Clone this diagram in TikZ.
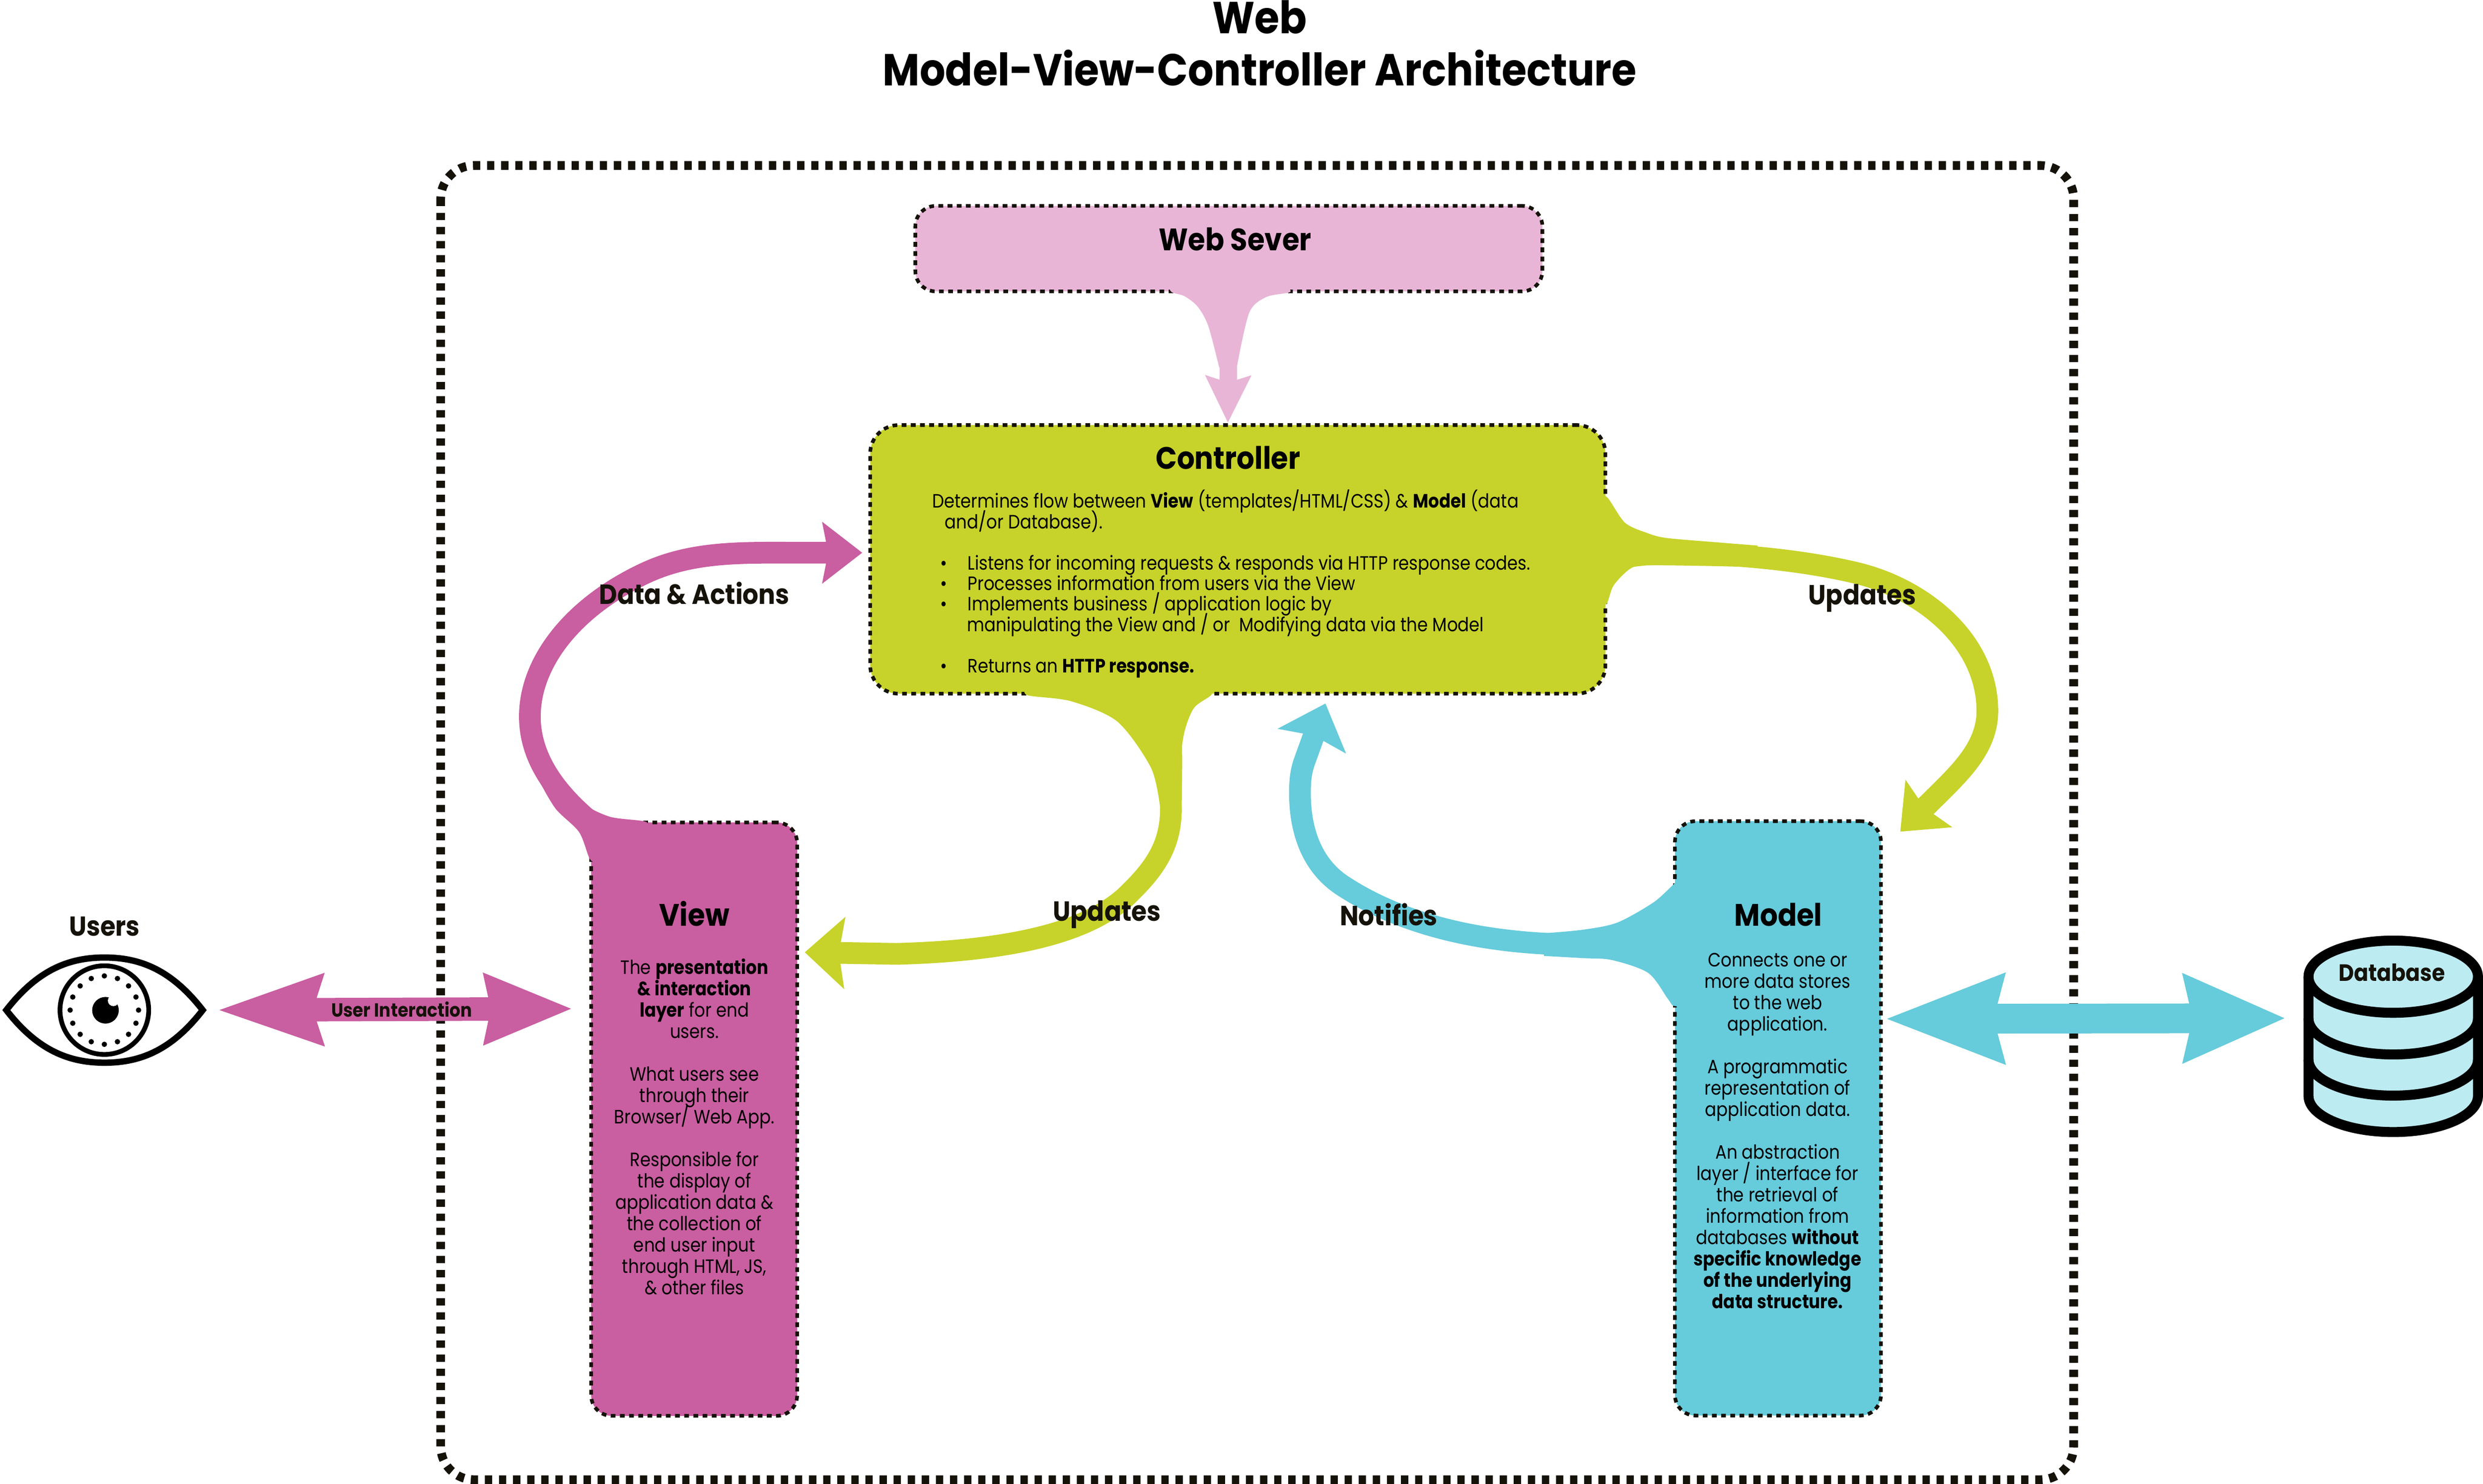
\documentclass[tikz,border=0pt]{standalone}
\usepackage{fontspec}
\usetikzlibrary{arrows.meta}
\setmainfont{Poppins}
\newfontfamily\headfont[FakeStretch=0.9]{Poppins}
\newfontfamily\bodyfont[FakeStretch=0.875]{Poppins}
\newcommand{\tightlines}{\lineskiplimit -20pt\relax}
\definecolor{viewpink}{HTML}{C95EA0}
\definecolor{serverpink}{HTML}{E8B5D6}
\definecolor{ctrllime}{HTML}{C7D32A}
\definecolor{modelcyan}{HTML}{66CBDB}
\definecolor{dbcyan}{HTML}{BDEBF2}
\definecolor{inkblack}{HTML}{15120A}
\tikzset{
	mvcbox/.style={draw=inkblack,line width=2.3pt,dash pattern=on 3pt off 2.8pt,rounded corners=13pt,inner sep=0pt,outer sep=0pt},
	boxtitle/.style={font=\headfont\bfseries\fontsize{19.6}{22}\selectfont,text=black,inner sep=0pt},
	flowlabel/.style={font=\headfont\bfseries\fontsize{17.5}{20}\selectfont,text=inkblack,inner sep=0pt},
	boxtext/.style={font=\bodyfont\fontsize{12.2}{13.5}\selectfont\tightlines,text=black,inner sep=0pt,align=center},
	flow/.style={line width=13.7pt,-{Stealth[length=25pt,width=#1pt,inset=3.5pt]}}
}
\begin{document}
\begin{tikzpicture}[x=1pt,y=-1pt]
	\useasboundingbox (0,0) rectangle (1568,937);
	\node[font=\headfont\bfseries\fontsize{28.3}{33}\selectfont\tightlines,align=center,inner sep=0pt,anchor=north] (title) at (795.5,0) {Web\\Model-View-Controller Architecture};
	\draw [inkblack,line width=5.5pt,dash pattern=on 4.6pt off 4.3pt,rounded corners=21pt] (278.3,104.5) rectangle (1309.5,934.3);

	\node[mvcbox,fill=serverpink,minimum width=396pt,minimum height=54pt] (webserver) at (776,157) {};
	\node[mvcbox,fill=ctrllime,minimum width=464.3pt,minimum height=169.6pt,rounded corners=18pt] (controller) at (781.65,353.2) {};
	\node[mvcbox,fill=viewpink,minimum width=130.1pt,minimum height=374.7pt] (view) at (438.35,706.65) {};
	\node[mvcbox,fill=modelcyan,minimum width=130.1pt,minimum height=375.3pt] (model) at (1122.75,706.15) {};
	\coordinate (webtip) at (775.4,267);
	\coordinate (datatip) at (544.5,349);
	\coordinate (modeltip) at (1200,525.1);
	\coordinate (viewtip) at (508.2,601.3);
	\coordinate (ctrltip) at (837,444.2);
	\coordinate (eyeleft) at (4,637.8);
	\coordinate (eyeright) at (128,637.8);
	\coordinate (dbleft) at (1454.6,642.9);

	% web server into controller
	\fill [serverpink] plot[smooth] coordinates {(737.4,180) (740,184.5) (748,187) (756.3,193.6) (763,205.8) (769.9,232)} -- plot[smooth] coordinates {(781,232) (788.8,197.6) (799.5,187.6) (814.6,184.4) (811.8,180)} -- cycle;
	\draw [serverpink,line width=11pt,-{Stealth[length=29.4pt,width=27.8pt,inset=4pt]}] (webserver.south) -- (webtip);

	% view to controller
	\fill [viewpink] plot[smooth] coordinates {(378,545) (372.5,542.4) (365.7,525.4) (351,510.8) (341,494)} -- plot[smooth] coordinates {(353,490) (367.3,506.7) (385.1,515.7) (407.8,518.9) (410,525)} -- cycle;
	\draw [viewpink,flow=38] (view.north west) .. controls (350,500) and (334.6,478) .. (334.6,452.4) .. controls (334.6,418) and (362,383) .. (407.8,361.7) .. controls (438,347.7) and (470,349) .. (505,349) -- (datatip);

	% controller to model
	\fill [ctrllime] plot[smooth] coordinates {(1010,313) (1015.2,314.3) (1026.1,330) (1040,336.5) (1052.4,339.7) (1085,342.5) (1110,344.5)} -- plot[smooth] coordinates {(1105,358) (1075,357.3) (1040.1,357) (1029.6,359) (1019,369.6) (1014.7,381) (1010,381.5)} -- cycle;
	\draw [ctrllime,flow=41] (controller.east) -- (1052,348.5) .. controls (1095,350) and (1135,353) .. (1172,361.7) .. controls (1215,372) and (1255,405) .. (1255,449) .. controls (1255,470) and (1240.5,485) .. (1226,499.5) -- (modeltip);

	% controller to view
	\fill [ctrllime] plot[smooth] coordinates {(648,434) (648.9,439) (676.5,442.8) (705.7,455.7) (726.8,484.7) (732.5,509)} -- plot[smooth] coordinates {(746.3,513) (745.5,482) (748,462) (754,447) (764.7,439) (766,434)} -- cycle;
	\draw [ctrllime,flow=44.6] (controller.242) .. controls (741,460) and (739.4,490) .. (739.4,511) .. controls (739.4,535) and (728,550) .. (710.6,566.5) .. controls (690,585) and (650,600) .. (566.2,602.3) -- (viewtip);

	% model to controller
	\fill [modelcyan] plot[smooth] coordinates {(1062,557) (1058,557.5) (1044.3,569.7) (1021.4,582.5) (1000,587) (975,589.3)} -- plot[smooth] coordinates {(975,603.6) (1000,605) (1018,606.2) (1040.8,614.3) (1053.1,630.5) (1056.6,635) (1062,635)} -- cycle;
	\draw [modelcyan,flow=44.9] (model.120) -- (1000,596.5) .. controls (945,596.5) and (890,587) .. (847.5,559) .. controls (828,546) and (820.9,524) .. (820.9,500.7) .. controls (820.9,493) and (821.5,487.5) .. (823.5,481.5) -- (ctrltip);

	% users
	\draw [line width=4pt,fill=white] (eyeleft) .. controls (24,612) and (44,604.6) .. (66,604.6) .. controls (88,604.6) and (108,612) .. (eyeright) .. controls (108,663.6) and (88,671) .. (66,671) .. controls (44,671) and (24,663.6) .. (eyeleft) -- cycle;
	\node[draw,circle,line width=3pt,minimum size=56pt,inner sep=0pt] (iris) at (65.9,637.8) {};
	\foreach \a in {0,22.5,...,337.5} \fill [shift={(iris)}] (\a:21.6pt) circle (1.7pt);
	\fill (66.6,637.9) circle (8.4pt);
	\fill [white] (71.6,631.8) circle (3.5pt);
	\node[flowlabel,font=\headfont\bfseries\fontsize{17.3}{20}\selectfont] (users) at (66,585) {Users};
	\draw [viewpink,line width=14.8pt,{Stealth[length=65.8pt,width=42pt,inset=5pt]}-{Stealth[length=54.8pt,width=42pt,inset=3pt]},shorten <=8.6pt,shorten >=11.5pt] (eyeright) -- (view.133) node[midway,xshift=3pt,text=inkblack,font=\headfont\bfseries\fontsize{12}{14}\selectfont,inner sep=0pt] (interaction) {User Interaction};

	% database
	\draw [line width=6.3pt,fill=dbcyan] (1457.8,616.7) -- (1457.8,692) arc [start angle=180,end angle=360,x radius=53.5pt,y radius=22.8pt] -- (1564.8,616.7) arc [start angle=0,end angle=180,x radius=53.5pt,y radius=22.8pt] -- cycle;
	\foreach \y in {616.7,643,669} \draw [line width=6.3pt] (1457.8,\y) arc [start angle=180,end angle=360,x radius=53.5pt,y radius=22.8pt];
	\node[flowlabel,font=\headfont\bfseries\fontsize{14.9}{17}\selectfont] (database) at (1510.5,614) {Database};
	\draw [modelcyan,line width=18.8pt,{Stealth[length=74pt,width=53pt,inset=5pt]}-{Stealth[length=63.5pt,width=53pt,inset=4.6pt]},shorten <=2pt,shorten >=11pt] (model.44) -- (dbleft);

	% labels and texts
	\node[boxtitle] (webtitle) at (780,151) {Web Sever};
	\node[boxtitle] (ctrltitle) at (775.5,289) {Controller};
	\node[boxtitle] (viewtitle) at (438.5,577) {View};
	\node[boxtitle] (modeltitle) at (1123,577.5) {Model};
	\node[flowlabel] (dataflow) at (438.5,374.5) {Data \& Actions};
	\node[flowlabel] (modelflow) at (1176,377.5) {Updates};
	\node[flowlabel] (viewflow) at (699,577.5) {Updates};
	\node[flowlabel] (notifyflow) at (877,577.5) {Notifies};
	\node[boxtext,anchor=north] (viewtext) at (438.5,605) {The \textbf{presentation}\\\textbf{\& interaction}\\\textbf{layer} for end\\users.\\[13.5pt]What users see\\through their\\Browser/ Web App.\\[13.5pt]Responsible for\\the display of\\application data \&\\the collection of\\end user input\\through HTML, JS,\\\& other files};
	\node[boxtext,anchor=north] (modeltext) at (1122.5,601.5) {Connects one or\\more data stores\\to the web\\application.\\[13.5pt]A programmatic\\representation of\\application data.\\[13.5pt]An abstraction\\layer / interface for\\the retrieval of\\information from\\databases \textbf{without}\\\textbf{specific knowledge}\\\textbf{of the underlying}\\\textbf{data structure.}};
	\node[boxtext,align=left,anchor=north west,font=\bodyfont\fontsize{12.2}{13}\selectfont\tightlines] (ctrltext) at (588.5,309) {Determines flow between \textbf{View} (templates/HTML/CSS) \& \textbf{Model} (data\\\hspace*{8pt}and/or Database).\\[13pt]\hspace*{5pt}•\hspace{13pt}Listens for incoming requests \& responds via HTTP response codes.\\\hspace*{5pt}•\hspace{13pt}Processes information from users via the View\\\hspace*{5pt}•\hspace{13pt}Implements business / application logic by\\\hspace*{22pt}manipulating the View and / or\ \ Modifying data via the Model\\[13pt]\hspace*{5pt}•\hspace{13pt}Returns an \textbf{HTTP response.}};
\end{tikzpicture}
\end{document}
